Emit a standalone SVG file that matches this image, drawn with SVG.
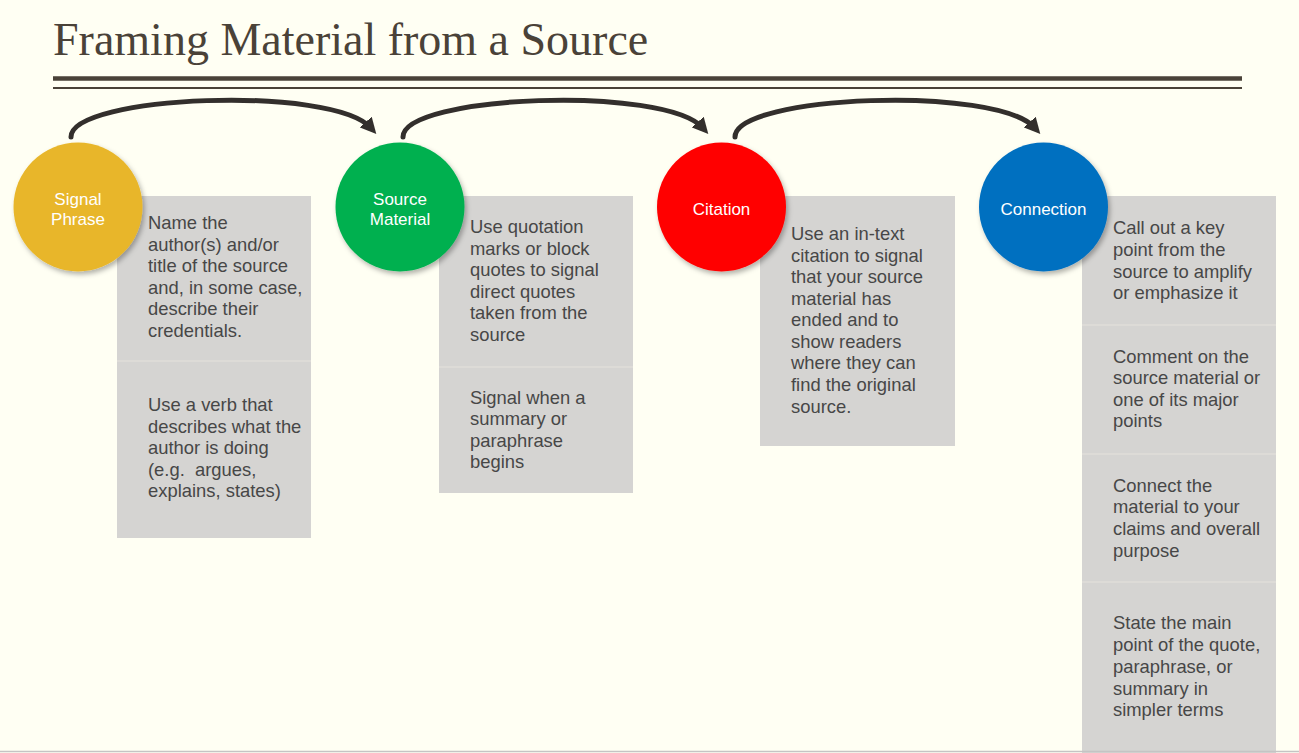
<svg xmlns="http://www.w3.org/2000/svg" width="1299" height="753" viewBox="0 0 1299 753">
<style>
.title{font-family:"Liberation Serif","Times New Roman",serif;font-size:46px;fill:#4a4238}
.rule{stroke:#4a4238}
.box{fill:#d5d4d2}
.sep{stroke:#dfded9;stroke-width:1.5}
.txt{font-family:"Liberation Sans",Arial,sans-serif;font-size:18.4px;fill:#474747}
.lbl{font-family:"Liberation Sans",Arial,sans-serif;font-size:17px;fill:#ffffff;text-anchor:middle}
.arc{fill:none;stroke:#332f2c;stroke-width:5;stroke-linecap:round;marker-end:url(#ah)}
</style>
<defs>
<marker id="ah" viewBox="0 0 10 10" refX="5" refY="5" markerWidth="3.2" markerHeight="3.2" orient="auto" markerUnits="strokeWidth">
<path d="M0,0 L10,5 L0,10 z" fill="#332f2c"/>
</marker>
<filter id="sh" x="-20%" y="-20%" width="150%" height="150%">
<feDropShadow dx="2" dy="3" stdDeviation="2.5" flood-color="#000" flood-opacity="0.3"/>
</filter>
</defs>
<rect width="1299" height="753" fill="#fffff3"/>
<g id="header">
<text class="title" x="53" y="55">Framing Material from a Source</text>
<line class="rule" x1="53" y1="78.5" x2="1242" y2="78.5" stroke-width="4.5"/>
<line class="rule" x1="53" y1="88" x2="1242" y2="88" stroke-width="2"/>
</g>
<g id="connectors">
<path class="arc" d="M71,137 C71,95 333,85 371,128"/>
<path class="arc" d="M403,137 C403,95 665,85 703,128"/>
<path class="arc" d="M735,137 C735,95 997,85 1035,128"/>
</g>
<g id="node-signal-phrase">
<rect class="box" x="117" y="196" width="194" height="342"/>
<line class="sep" x1="117" y1="361" x2="311" y2="361"/>
<text class="txt"><tspan x="148" y="229">Name the</tspan><tspan x="148" y="251">author(s) and/or</tspan><tspan x="148" y="272">title of the source</tspan><tspan x="148" y="294">and, in some case,</tspan><tspan x="148" y="315">describe their</tspan><tspan x="148" y="337">credentials.</tspan></text>
<text class="txt"><tspan x="148" y="411">Use a verb that</tspan><tspan x="148" y="433">describes what the</tspan><tspan x="148" y="454">author is doing</tspan><tspan x="148" y="476">(e.g.&#160; argues,</tspan><tspan x="148" y="497">explains, states)</tspan></text>
<circle cx="78" cy="207" r="64.5" fill="#e8b62a" filter="url(#sh)"/>
<text class="lbl"><tspan x="78" y="205">Signal</tspan><tspan x="78" y="225">Phrase</tspan></text>
</g>
<g id="node-source-material">
<rect class="box" x="439" y="196" width="194" height="297"/>
<line class="sep" x1="439" y1="367" x2="633" y2="367"/>
<text class="txt"><tspan x="470" y="233">Use quotation</tspan><tspan x="470" y="255">marks or block</tspan><tspan x="470" y="276">quotes to signal</tspan><tspan x="470" y="298">direct quotes</tspan><tspan x="470" y="319">taken from the</tspan><tspan x="470" y="341">source</tspan></text>
<text class="txt"><tspan x="470" y="404">Signal when a</tspan><tspan x="470" y="425">summary or</tspan><tspan x="470" y="447">paraphrase</tspan><tspan x="470" y="468">begins</tspan></text>
<circle cx="400" cy="207" r="64.5" fill="#00b050" filter="url(#sh)"/>
<text class="lbl"><tspan x="400" y="205">Source</tspan><tspan x="400" y="225">Material</tspan></text>
</g>
<g id="node-citation">
<rect class="box" x="760" y="196" width="195" height="250"/>
<text class="txt"><tspan x="791" y="240">Use an in-text</tspan><tspan x="791" y="262">citation to signal</tspan><tspan x="791" y="283">that your source</tspan><tspan x="791" y="305">material has</tspan><tspan x="791" y="326">ended and to</tspan><tspan x="791" y="348">show readers</tspan><tspan x="791" y="369">where they can</tspan><tspan x="791" y="391">find the original</tspan><tspan x="791" y="413">source.</tspan></text>
<circle cx="721.5" cy="207" r="64.5" fill="#ff0000" filter="url(#sh)"/>
<text class="lbl" x="721.5" y="215">Citation</text>
</g>
<g id="node-connection">
<rect class="box" x="1082" y="196" width="194" height="557"/>
<line class="sep" x1="1082" y1="325" x2="1276" y2="325"/>
<line class="sep" x1="1082" y1="454" x2="1276" y2="454"/>
<line class="sep" x1="1082" y1="582" x2="1276" y2="582"/>
<text class="txt"><tspan x="1113" y="234">Call out a key</tspan><tspan x="1113" y="256">point from the</tspan><tspan x="1113" y="278">source to amplify</tspan><tspan x="1113" y="299">or emphasize it</tspan></text>
<text class="txt"><tspan x="1113" y="363">Comment on the</tspan><tspan x="1113" y="384">source material or</tspan><tspan x="1113" y="406">one of its major</tspan><tspan x="1113" y="427">points</tspan></text>
<text class="txt"><tspan x="1113" y="492">Connect the</tspan><tspan x="1113" y="513">material to your</tspan><tspan x="1113" y="535">claims and overall</tspan><tspan x="1113" y="557">purpose</tspan></text>
<text class="txt"><tspan x="1113" y="629">State the main</tspan><tspan x="1113" y="651">point of the quote,</tspan><tspan x="1113" y="673">paraphrase, or</tspan><tspan x="1113" y="695">summary in</tspan><tspan x="1113" y="716">simpler terms</tspan></text>
<circle cx="1043.5" cy="207" r="64.5" fill="#0070c0" filter="url(#sh)"/>
<text class="lbl" x="1043.5" y="215">Connection</text>
</g>
<line x1="0" y1="751.5" x2="1299" y2="751.5" stroke="#c4c4c4" stroke-width="1.5"/>
</svg>
